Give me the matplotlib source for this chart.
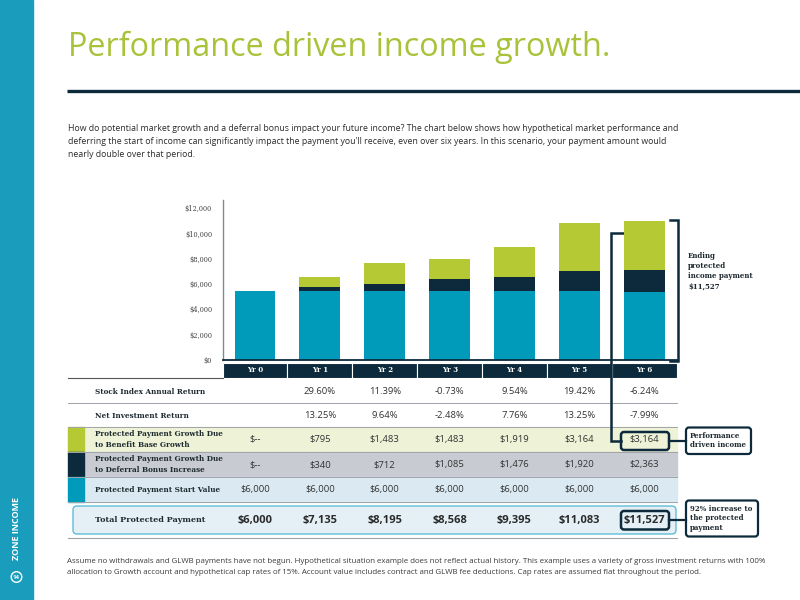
import matplotlib
matplotlib.use('Agg')
import matplotlib.pyplot as plt
from matplotlib.patches import Rectangle, FancyBboxPatch, Circle
from matplotlib.transforms import blended_transform_factory

# Dados do grafico
anos = ['Yr 0', 'Yr 1', 'Yr 2', 'Yr 3', 'Yr 4', 'Yr 5', 'Yr 6']
barra_inicial = [5430, 5430, 5430, 5430, 5430, 5430, 5380]
barra_bonus = [0, 317, 610, 940, 1164, 1639, 1765]
barra_crescimento = [0, 847, 1638, 1620, 2374, 3744, 3878]

# Dados da tabela
retorno_indice = ['', '29.60%', '11.39%', '-0.73%', '9.54%', '19.42%', '-6.24%']
retorno_liquido = ['', '13.25%', '9.64%', '-2.48%', '7.76%', '13.25%', '-7.99%']
cresc_base = ['$--', '$795', '$1,483', '$1,483', '$1,919', '$3,164', '$3,164']
cresc_bonus = ['$--', '$340', '$712', '$1,085', '$1,476', '$1,920', '$2,363']
valor_inicial = ['$6,000', '$6,000', '$6,000', '$6,000', '$6,000', '$6,000', '$6,000']
total_protegido = ['$6,000', '$7,135', '$8,195', '$8,568', '$9,395', '$11,083', '$11,527']

AZUL = '#009bbb'
MARINHO = '#0c2a3b'
VERDE = '#b5c935'
VERDE_TIT = '#a8c33a'
SERIF = 'DejaVu Serif'
SANS = 'Open Sans'

fig = plt.figure(figsize=(8, 6), dpi=100)

# camada de fundo em pixels (y para baixo)
ov = fig.add_axes([0, 0, 1, 1], zorder=0)
ov.set_xlim(0, 800)
ov.set_ylim(600, 0)
ov.axis('off')

# grafico de barras
ax = fig.add_axes([222.5 / 800, 0.4, 454.2 / 800, 160 / 600], zorder=1)
ax.patch.set_alpha(0)
x = list(range(len(anos)))
topo_bonus = [a + b for a, b in zip(barra_inicial, barra_bonus)]
ax.bar(x, barra_inicial, width=0.63, color=AZUL)
ax.bar(x, barra_bonus, width=0.63, bottom=barra_inicial, color=MARINHO)
ax.bar(x, barra_crescimento, width=0.63, bottom=topo_bonus, color=VERDE)
ax.set_xlim(-0.5, 6.5)
ax.set_ylim(0, 12660)
ax.set_yticks(range(0, 12001, 2000))
ax.set_yticklabels(['$' + f'{v:,}' for v in range(0, 12001, 2000)],
                   fontfamily=SERIF, fontsize=4.8, color='#444444')
ax.set_xticks([])
ax.tick_params(axis='y', length=0, pad=7.5)
for lado in ['top', 'right']:
    ax.spines[lado].set_visible(False)
ax.spines['left'].set_color('#7d8c92')
ax.spines['left'].set_linewidth(1)
ax.spines['bottom'].set_color(MARINHO)
ax.spines['bottom'].set_linewidth(1.3)

trans = blended_transform_factory(ax.transData, ov.transData)

# barra lateral
ov.add_patch(Rectangle((0, 0), 33, 600, color='#1a9cbc', zorder=1))
ov.text(16.5, 529, 'ZONE INCOME', rotation=90, color='white', fontfamily=SANS,
        fontweight='bold', fontsize=6.5, ha='center', va='center')
ov.add_patch(Circle((16.5, 577), 5.3, facecolor='none', edgecolor='white', lw=1))
ov.text(16.5, 577.3, '14', color='white', fontfamily=SANS, fontweight='bold',
        fontsize=4.3, ha='center', va='center')

# titulo e texto
ov.text(68, 56, 'Performance driven income growth.', color=VERDE_TIT,
        fontfamily=SANS, fontsize=23.3, va='baseline', ha='left')
ov.plot([67, 800], [90.7, 90.7], color=MARINHO, lw=2.4, solid_capstyle='butt')
paragrafo = [
    "How do potential market growth and a deferral bonus impact your future income? The chart below shows how hypothetical market performance and",
    "deferring the start of income can significantly impact the payment you'll receive, even over six years. In this scenario, your payment amount would",
    "nearly double over that period.",
]
for i, linha in enumerate(paragrafo):
    ov.text(68, 130.7 + i * 13, linha, fontfamily=SANS, fontsize=6.35,
            color='#2b2b2b', va='baseline')

rodape = [
    "Assume no withdrawals and GLWB payments have not begun. Hypothetical situation example does not reflect actual history. This example uses a variety of gross investment returns with 100%",
    "allocation to Growth account and hypothetical cap rates of 15%. Account value includes contract and GLWB fee deductions. Cap rates are assumed flat throughout the period.",
]
for i, linha in enumerate(rodape):
    ov.text(67, 563.3 + i * 11, linha, fontfamily=SANS, fontsize=5.65,
            color='#3a3a3a', va='baseline')

# cabecalho da tabela
for i, ano in enumerate(anos):
    ov.add_patch(Rectangle((i - 0.5, 363), 1, 15, transform=trans,
                           facecolor=MARINHO, edgecolor='white', lw=0.8, zorder=2))
    ov.text(i, 370.5, ano, transform=trans, color='white', fontfamily=SERIF,
            fontweight='bold', fontsize=5, ha='center', va='center', zorder=3)
ov.plot([68, 222.5], [378, 378], color='#555555', lw=0.8)

# fundos das linhas
linhas_fundo = [(427, 452, '#eef2d6', VERDE), (452, 477, '#c9cbd3', MARINHO),
                (477, 502, '#dbeaf2', AZUL)]
for y0, y1, fundo, amostra in linhas_fundo:
    ov.add_patch(Rectangle((84, y0), 593, y1 - y0, color=fundo, zorder=1))
    ov.add_patch(Rectangle((68, y0), 16, y1 - y0, color=amostra, zorder=1))
for yl in [403, 427, 452, 477, 502]:
    ov.plot([68, 677], [yl, yl], color='#a0a4aa', lw=0.7, zorder=2)

rotulos = [
    (392, 'Stock Index Annual Return', retorno_indice),
    (416, 'Net Investment Return', retorno_liquido),
    (439.5, 'Protected Payment Growth Due\nto Benefit Base Growth', cresc_base),
    (464.5, 'Protected Payment Growth Due\nto Deferral Bonus Increase', cresc_bonus),
    (489.5, 'Protected Payment Start Value', valor_inicial),
]
for yc, rotulo, valores in rotulos:
    ov.text(95, yc, rotulo, fontfamily=SERIF, fontweight='bold', fontsize=5.2,
            color='#1e2a30', va='center', ha='left', linespacing=1.35, zorder=3)
    for i, v in enumerate(valores):
        ov.text(i, yc, v, transform=trans, fontfamily=SANS, fontsize=6.8,
                color='#333333', ha='center', va='center', zorder=3)

# linha do total
ov.add_patch(FancyBboxPatch((73, 506), 603, 28, boxstyle='round,pad=0,rounding_size=4',
                            facecolor='#e4f0f6', edgecolor='#62bcd6', lw=1, zorder=1))
ov.plot([68, 677], [538, 538], color='#a0a4aa', lw=0.8)
ov.text(95, 520.5, 'Total Protected Payment', fontfamily=SERIF, fontweight='bold',
        fontsize=5.8, color='#1e2a30', va='center', ha='left', zorder=3)
for i, v in enumerate(total_protegido):
    ov.text(i, 520.5, v, transform=trans, fontfamily=SANS, fontweight='bold',
            fontsize=8, color='#2b2b2b', ha='center', va='center', zorder=3)

# destaques e chamadas
for y0, y1 in [(432, 450), (511, 529.5)]:
    ov.add_patch(FancyBboxPatch((621, y0), 48, y1 - y0,
                                boxstyle='round,pad=0,rounding_size=3',
                                facecolor='none', edgecolor=MARINHO, lw=1.8, zorder=4))
ov.add_patch(FancyBboxPatch((686, 427.5), 65, 26.5, boxstyle='round,pad=0,rounding_size=3',
                            facecolor='white', edgecolor=MARINHO, lw=1.6, zorder=4))
ov.add_patch(FancyBboxPatch((686, 500.5), 72, 36, boxstyle='round,pad=0,rounding_size=3',
                            facecolor='white', edgecolor=MARINHO, lw=1.6, zorder=4))
ov.plot([669, 686], [441, 441], color=MARINHO, lw=1.6, zorder=4)
ov.plot([669, 686], [520, 520], color=MARINHO, lw=1.6, zorder=4)
ov.text(690, 440.5, 'Performance\ndriven income', fontfamily=SERIF, fontweight='bold',
        fontsize=5, color='#1e2a30', va='center', ha='left', linespacing=1.2, zorder=5)
ov.text(690, 518.5, '92% increase to\nthe protected\npayment', fontfamily=SERIF,
        fontweight='bold', fontsize=5, color='#1e2a30', va='center', ha='left',
        linespacing=1.2, zorder=5)

# colchetes
ov.plot([630, 610.7, 610.7, 621], [232.7, 232.7, 441, 441], color=MARINHO, lw=1.8,
        solid_joinstyle='miter', zorder=4)
ov.plot([670, 677.5, 677.5, 670], [220, 220, 361, 361], color=MARINHO, lw=1.8,
        solid_joinstyle='miter', zorder=4)
ov.text(688, 252, 'Ending\nprotected\nincome payment\n$11,527', fontfamily=SERIF,
        fontweight='bold', fontsize=5, color='#1e2a30', va='top', ha='left',
        linespacing=1.35)

fig.savefig('out.png', dpi=100)
